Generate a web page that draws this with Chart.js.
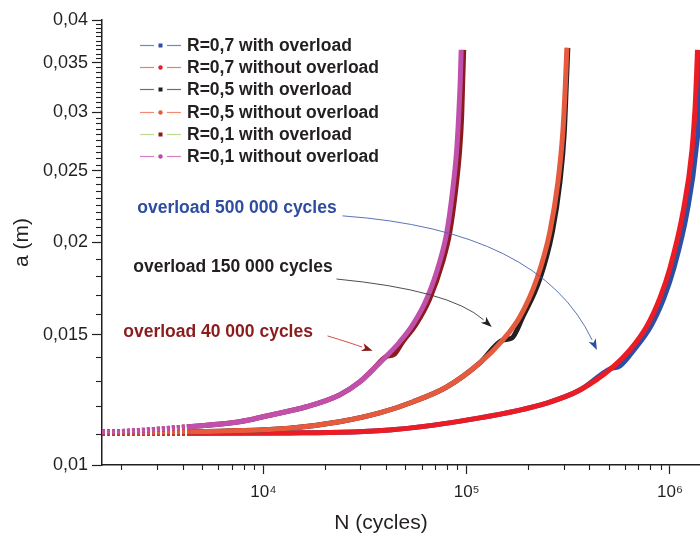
<!DOCTYPE html>
<html>
<head>
<meta charset="utf-8">
<script src="https://cdn.jsdelivr.net/npm/chart.js@4.4.1/dist/chart.umd.min.js"></script>
<style>
html,body{margin:0;padding:0;background:#ffffff;}
#wrap{width:700px;height:541px;position:relative;}
canvas{display:block;}
</style>
</head>
<body>
<div id="wrap"><canvas id="c" width="700" height="541"></canvas></div>
<script>
// ---------------- DATA ----------------
const seriesNames = [
  "R=0,7 with overload",
  "R=0,7 without overload",
  "R=0,5 with overload",
  "R=0,5 without overload",
  "R=0,1 with overload",
  "R=0,1 without overload"
];
const overloadTexts = ["overload 500 000 cycles", "overload 150 000 cycles", "overload 40 000 cycles"];
const xAxisTitle = "N (cycles)";
const yAxisTitle = "a (m)";
const xRange = [1607, 1405000];
const yRange = [0.01, 0.04];
const yMajorTicks = [0.01, 0.015, 0.02, 0.025, 0.03, 0.035, 0.04];

// R = 0,7 without overload
const N_R07_without = [1607, 4316, 13430, 41760, 115900, 247800, 360400, 523900, 635300, 770300, 892600, 1000000, 1159000, 1283000, 1335000, 1366000];
const a_R07_without = [0.01104, 0.01104, 0.01105, 0.01115, 0.01158, 0.01213, 0.01263, 0.01357, 0.01431, 0.01542, 0.01683, 0.01848, 0.02199, 0.02669, 0.03118, 0.03644];
// R = 0,7 with overload (overload at 500 000 cycles)
const N_R07_with = [1607, 4316, 13430, 41760, 115900, 247800, 360400, 506300, 567200, 664700, 806300, 934200, 1046000, 1213000, 1343000, 1397000, 1412000];
const a_R07_with = [0.01104, 0.01104, 0.01105, 0.01115, 0.01158, 0.01213, 0.01263, 0.01349, 0.01361, 0.01431, 0.01542, 0.01683, 0.01848, 0.02199, 0.02669, 0.03118, 0.03644];
// R = 0,5 without overload
const N_R05_without = [1607, 4316, 13430, 23680, 37270, 54200, 79710, 115900, 150400, 182400, 221200, 256400, 280700, 297100, 305700, 310900];
const a_R05_without = [0.01107, 0.01109, 0.01121, 0.01144, 0.01176, 0.01217, 0.01275, 0.01374, 0.01476, 0.01586, 0.01785, 0.02067, 0.02408, 0.02822, 0.03267, 0.03667];
// R = 0,5 with overload (overload at 150 000 cycles)
const N_R05_with = [1607, 4316, 13430, 23680, 37270, 54200, 79710, 115900, 150400, 166600, 188700, 228900, 263800, 287200, 302200, 309100, 314500];
const a_R05_with = [0.01107, 0.01109, 0.01121, 0.01144, 0.01176, 0.01217, 0.01275, 0.01374, 0.01476, 0.01485, 0.01586, 0.01785, 0.02067, 0.02408, 0.02822, 0.03267, 0.03667];
// R = 0,1 without overload
const N_R01_without = [1607, 2000, 4316, 7622, 10345, 16280, 23680, 29720, 34440, 39900, 46770, 54200, 63530, 73620, 79710, 85320, 89270, 91320, 92900, 93950];
const a_R01_without = [0.01109, 0.0111, 0.01127, 0.01144, 0.01165, 0.01199, 0.01244, 0.01295, 0.01345, 0.014, 0.01467, 0.01547, 0.01677, 0.01883, 0.02061, 0.02356, 0.02669, 0.02967, 0.03298, 0.03644];
// R = 0,1 with overload (overload at 40 000 cycles)
const N_R01_with = [1607, 2000, 4316, 7622, 10345, 16280, 23680, 29720, 34440, 39900, 44190, 48380, 56090, 65710, 76170, 82460, 88270, 92370, 94490, 95570, 96660];
const a_R01_with = [0.01109, 0.0111, 0.01127, 0.01144, 0.01165, 0.01199, 0.01244, 0.01295, 0.01345, 0.014, 0.01413, 0.01467, 0.01547, 0.01677, 0.01883, 0.02061, 0.02356, 0.02669, 0.02967, 0.03298, 0.03644];

// ---------------- helpers ----------------
const FONT = '"Liberation Sans", Arial, Helvetica, sans-serif';
const INK = '#231f20';
const SUP = {'0':'\u2070','1':'\u00b9','2':'\u00b2','3':'\u00b3','4':'\u2074','5':'\u2075','6':'\u2076','7':'\u2077','8':'\u2078','9':'\u2079'};
function pts(N, a) { return N.map((n, i) => ({x: n, y: a[i]})); }
function isMajorX(v) { const l = Math.log10(v); return Math.abs(l - Math.round(l)) < 1e-9; }
function isMajorY(v) { return yMajorTicks.some(m => Math.abs(m - v) < 1e-9); }

const styles = [
  {line: '#2d4fa3', legLine: '#7585c6', legDot: '#2d4fa3', dot: 'rect', order: 6},
  {line: '#ec1c24', legLine: '#f27a6e', legDot: '#ec1c24', dot: 'circle', order: 5},
  {line: '#231f20', legLine: '#6d6e70', legDot: '#231f20', dot: 'rect', order: 4},
  {line: '#e65a3e', legLine: '#f58a72', legDot: '#e65a3e', dot: 'circle', order: 3},
  {line: '#8b1a1e', legLine: '#bcdc8e', legDot: '#8b1a1e', dot: 'rect', order: 2},
  {line: '#c150ad', legLine: '#d77cc6', legDot: '#b947a6', dot: 'circle', order: 1}
];
const seriesData = [
  pts(N_R07_with, a_R07_with),
  pts(N_R07_without, a_R07_without),
  pts(N_R05_with, a_R05_with),
  pts(N_R05_without, a_R05_without),
  pts(N_R01_with, a_R01_with),
  pts(N_R01_without, a_R01_without)
];

const datasets = seriesNames.map((name, i) => ({
  label: name,
  data: seriesData[i],
  showLine: true,
  borderColor: styles[i].line,
  backgroundColor: styles[i].line,
  borderWidth: 5,
  pointRadius: 0,
  cubicInterpolationMode: 'monotone',
  order: styles[i].order,
  // the sparse markers at the start of the curves read as a dashed band
  segment: {borderDash: ctx => (ctx.p0.parsed.x < 4000 ? [3, 2] : undefined)},
  legLine: styles[i].legLine,
  legDot: styles[i].legDot,
  dotShape: styles[i].dot
}));

// annotations anchored in data coordinates (N, a)
const annotations = [
  {text: overloadTexts[0], color: '#2f4d9f', at: [2395, 0.02227],
   arrow: {from: [24500, 0.02173], ctrl: [228900, 0.0208], to: [436900, 0.01431], line: '#4a63b0', head: '#2d4fa3'}},
  {text: overloadTexts[1], color: INK, at: [2289, 0.01853],
   arrow: {from: [22890, 0.01785], ctrl: [82470, 0.01725], to: [132800, 0.01537], line: '#3a3a3a', head: INK}},
  {text: overloadTexts[2], color: '#8b1c1c', at: [2044, 0.01513],
   arrow: {from: [20670, 0.01495], ctrl: [27000, 0.01462], to: [34440, 0.01427], line: '#c8413a', head: '#8b1a1e'}}
];

// ---------------- plugins ----------------
const minorTicksPlugin = {
  id: 'minorTicks',
  afterDraw(chart) {
    const ctx = chart.ctx, xs = chart.scales.x, ys = chart.scales.y;
    ctx.save();
    ctx.strokeStyle = INK;
    ctx.lineWidth = 1.1;
    xs.ticks.forEach(t => {
      if (isMajorX(t.value)) return;
      const px = Math.round(xs.getPixelForValue(t.value)) + 0.5;
      ctx.beginPath(); ctx.moveTo(px, xs.top); ctx.lineTo(px, xs.top + 5); ctx.stroke();
    });
    ys.ticks.forEach(t => {
      if (isMajorY(t.value)) return;
      const py = Math.round(ys.getPixelForValue(t.value)) + 0.5;
      ctx.beginPath(); ctx.moveTo(ys.right, py); ctx.lineTo(ys.right - 6, py); ctx.stroke();
    });
    ctx.restore();
  }
};

const legendPlugin = {
  id: 'insideLegend',
  afterDraw(chart) {
    const ctx = chart.ctx, area = chart.chartArea;
    const x0 = area.left + 38, y0 = area.top + 25, step = 22.2;
    ctx.save();
    ctx.font = 'bold 17.5px ' + FONT;
    ctx.textBaseline = 'middle';
    ctx.textAlign = 'left';
    chart.data.datasets.forEach((ds, i) => {
      const y = Math.round(y0 + i * step) + 0.5;
      ctx.strokeStyle = ds.legLine;
      ctx.lineWidth = 1.2;
      ctx.beginPath(); ctx.moveTo(x0, y); ctx.lineTo(x0 + 14, y); ctx.stroke();
      ctx.beginPath(); ctx.moveTo(x0 + 27, y); ctx.lineTo(x0 + 41, y); ctx.stroke();
      ctx.fillStyle = ds.legDot;
      if (ds.dotShape === 'rect') { ctx.fillRect(x0 + 18.5, y - 2, 4, 4); }
      else { ctx.beginPath(); ctx.arc(x0 + 20.5, y, 2.2, 0, Math.PI * 2); ctx.fill(); }
      ctx.fillStyle = INK;
      ctx.fillText(ds.label, x0 + 47, y + 1);
    });
    ctx.restore();
  }
};

const annotationPlugin = {
  id: 'overloadNotes',
  afterDraw(chart) {
    const ctx = chart.ctx, xs = chart.scales.x, ys = chart.scales.y;
    const P = p => [xs.getPixelForValue(p[0]), ys.getPixelForValue(p[1])];
    ctx.save();
    annotations.forEach(an => {
      const t = P(an.at);
      ctx.font = 'bold 17.5px ' + FONT;
      ctx.textBaseline = 'middle';
      ctx.textAlign = 'left';
      ctx.fillStyle = an.color;
      ctx.fillText(an.text, t[0], t[1]);
      const a = an.arrow;
      const f = P(a.from), c = P(a.ctrl), e = P(a.to);
      const ang = Math.atan2(e[1] - c[1], e[0] - c[0]);
      const hl = 11, hw = 4;
      const bx = e[0] - hl * Math.cos(ang), by = e[1] - hl * Math.sin(ang);
      ctx.strokeStyle = a.line;
      ctx.lineWidth = 0.9;
      ctx.beginPath(); ctx.moveTo(f[0], f[1]); ctx.quadraticCurveTo(c[0], c[1], bx, by); ctx.stroke();
      ctx.fillStyle = a.head;
      ctx.beginPath();
      ctx.moveTo(e[0], e[1]);
      ctx.lineTo(bx + hw * Math.sin(ang), by - hw * Math.cos(ang));
      ctx.lineTo(bx + 3 * Math.cos(ang), by + 3 * Math.sin(ang));
      ctx.lineTo(bx - hw * Math.sin(ang), by + hw * Math.cos(ang));
      ctx.closePath(); ctx.fill();
    });
    ctx.restore();
  }
};

// x-axis title (placed off-centre as in the reference)
const xTitlePlugin = {
  id: 'xTitle',
  afterDraw(chart) {
    const ctx = chart.ctx, xs = chart.scales.x;
    ctx.save();
    ctx.font = '21px ' + FONT;
    ctx.fillStyle = INK;
    ctx.textAlign = 'center';
    ctx.textBaseline = 'middle';
    ctx.fillText(xAxisTitle, xs.left + 279, xs.bottom - 18);
    ctx.restore();
  }
};

// ---------------- chart ----------------
new Chart(document.getElementById('c'), {
  type: 'scatter',
  data: {datasets},
  options: {
    responsive: false,
    animation: false,
    devicePixelRatio: 1,
    layout: {padding: {top: 20, right: 0, bottom: 0, left: 0}},
    plugins: {legend: {display: false}, tooltip: {enabled: false}},
    scales: {
      x: {
        type: 'logarithmic',
        position: 'bottom',
        min: xRange[0], max: xRange[1],
        afterBuildTicks(scale) {
          const t = [];
          for (let e = 3; e <= 6; e++) for (let m = 1; m <= 9; m++) {
            const v = m * Math.pow(10, e);
            if (v >= scale.min && v <= scale.max) t.push({value: v, major: m === 1});
          }
          scale.ticks = t;
        },
        afterFit(scale) { scale.height = 76; },
        grid: {
          display: true, drawOnChartArea: false, drawTicks: true, tickLength: 9,
          tickWidth: 1.2,
          tickColor: ctx => (ctx.tick && isMajorX(ctx.tick.value)) ? INK : 'rgba(0,0,0,0)'
        },
        border: {display: true, color: INK, width: 1.5},
        ticks: {
          autoSkip: false, maxRotation: 0, minRotation: 0, padding: 8,
          color: INK, font: {family: FONT, size: 17},
          callback: v => isMajorX(v) ? '10' + String(Math.round(Math.log10(v))).split('').map(d => SUP[d]).join('') : ''
        },
        title: {display: false, text: xAxisTitle}
      },
      y: {
        type: 'logarithmic',
        position: 'left',
        min: yRange[0], max: yRange[1],
        afterBuildTicks(scale) {
          const t = [];
          for (let k = 100; k <= 200; k += 10) t.push({value: k / 10000});
          for (let k = 205; k <= 400; k += 5) t.push({value: k / 10000});
          scale.ticks = t;
        },
        afterFit(scale) { scale.width = 102; },
        grid: {
          display: true, drawOnChartArea: false, drawTicks: true, tickLength: 10,
          tickWidth: 1.2,
          tickColor: ctx => (ctx.tick && isMajorY(ctx.tick.value)) ? INK : 'rgba(0,0,0,0)'
        },
        border: {display: true, color: INK, width: 1.5},
        ticks: {
          autoSkip: false, padding: 4,
          color: INK, font: {family: FONT, size: 18},
          callback: v => isMajorY(v) ? String(parseFloat(v.toFixed(3))).replace('.', ',') : ''
        },
        title: {display: true, text: yAxisTitle, color: INK, font: {family: FONT, size: 21}, padding: {top: 10, bottom: 0}}
      }
    }
  },
  plugins: [minorTicksPlugin, legendPlugin, annotationPlugin, xTitlePlugin]
});
</script>
</body>
</html>
